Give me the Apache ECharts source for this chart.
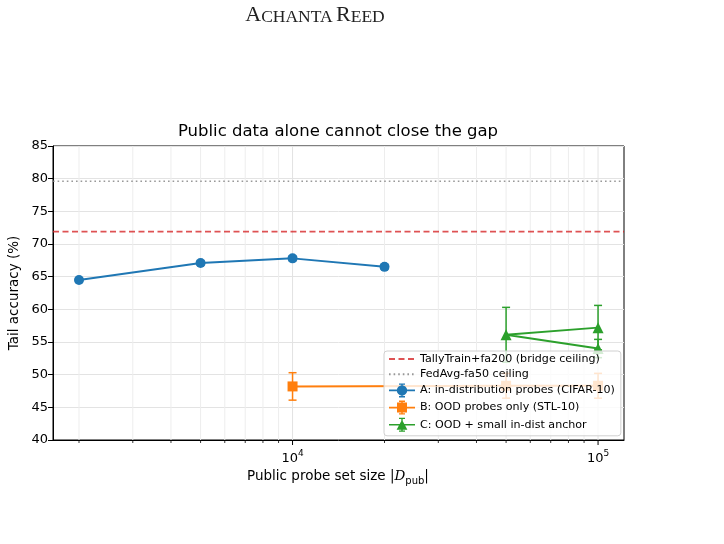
<!DOCTYPE html>
<html><head><meta charset="utf-8">
<script src="https://cdn.jsdelivr.net/npm/echarts@6/dist/echarts.min.js"></script>
<style>html,body{margin:0;padding:0;background:#fff}#c{width:724px;height:544px}</style>
</head><body><div id="c"></div>
<script>
// ---- data ----
const xA = [2000, 5000, 10000, 20000];
const yA = [64.5, 67.1, 67.8, 66.5];
const eA = [0.3, 0.3, 0.35, 0.35];
const xB = [10000, 50000, 100000];
const yB = [48.2, 48.3, 48.3];
const eB = [2.1, 1.9, 1.9];
const xC = [100000, 50000, 100000];
const yC = [57.2, 56.1, 54.0];
const eC = [3.4, 4.2, 1.4];
const bridgeCeiling = 71.9;
const fedavgCeiling = 79.6;
const xMajorTicks = [10000, 100000];
const xMinorTicks = [2000,3000,4000,5000,6000,7000,8000,9000,20000,30000,40000,50000,60000,70000,80000,90000];
const xMin = 1644, xMax = 121600;
const yMin = 40, yMax = 85, yStep = 5;
const names = ['TallyTrain+fa200 (bridge ceiling)','FedAvg-fa50 ceiling','A: in-distribution probes (CIFAR-10)','B: OOD probes only (STL-10)','C: OOD + small in-dist anchor'];
const cBlue='#1f77b4', cOrange='#ff7f0e', cGreen='#2ca02c';

const FONT = 'DejaVu Sans';
const chart = echarts.init(document.getElementById('c'), null, {renderer:'canvas'});

function pairs(xs, ys){ return xs.map((x,i)=>[x, ys[i]]); }
function triples(xs, ys, es){ return xs.map((x,i)=>[x, ys[i], es[i]]); }

function errRender(color){
  return function(params, api){
    const x = api.value(0), y = api.value(1), e = api.value(2);
    const t = api.coord([x, y+e]), b = api.coord([x, y-e]);
    const cw = 4;
    const st = {stroke: color, lineWidth: 1.5};
    return {type:'group', children:[
      {type:'line', shape:{x1:t[0],y1:t[1],x2:b[0],y2:b[1]}, style:st},
      {type:'line', shape:{x1:t[0]-cw,y1:t[1],x2:t[0]+cw,y2:t[1]}, style:st},
      {type:'line', shape:{x1:b[0]-cw,y1:b[1],x2:b[0]+cw,y2:b[1]}, style:st}
    ]};
  };
}
function gridRender(major){
  return function(params, api){
    const x = api.value(0);
    const t = api.coord([x, yMax]), b = api.coord([x, yMin]);
    return {type:'group', children:[
      {type:'line', shape:{x1:t[0],y1:t[1],x2:b[0],y2:b[1]}, style:{stroke: major?'#e3e3e3':'#ededed', lineWidth:1}},
      {type:'line', shape:{x1:b[0],y1:b[1],x2:b[0],y2:b[1]+(major?5:3)}, style:{stroke:'#000', lineWidth: major?1:0.8}}
    ]};
  };
}
// legend icons: line + error bar + marker (26x14 box)
const iconBase = 'M0 6.2 h26 v1.6 h-26 Z M12.3 0 h1.4 v14 h-1.4 Z M10 0 h6 v1.3 h-6 Z M10 12.7 h6 v1.3 h-6 Z ';
const iconA = 'path://' + iconBase + 'M7.8 7 A5.2 5.2 0 1 1 18.2 7 A5.2 5.2 0 1 1 7.8 7 Z';
const iconB = 'path://' + iconBase + 'M8 2 h10 v10 h-10 Z';
const iconC = 'path://' + iconBase + 'M7.6 12 L13 2 L18.4 12 Z';
const noSym = {color:'rgba(0,0,0,0)', borderColor:'rgba(0,0,0,0)', borderWidth:0};

const option = {
  animation:false,
  textStyle:{fontFamily:FONT},
  grid:{left:53, right:100, top:146, bottom:104, show:true, borderColor:'#000', borderWidth:1, backgroundColor:'transparent'},
  xAxis:{type:'log', min:xMin, max:xMax, logBase:10,
    axisLine:{lineStyle:{color:'#000'}},
    axisTick:{show:false}, splitLine:{show:false}, minorTick:{show:false},
    axisLabel:{color:'#000', fontFamily:FONT, fontSize:13, margin:9,
      formatter:function(v){ const l=Math.log10(v), r=Math.round(l); if(Math.abs(l-r)<1e-6 && xMajorTicks.indexOf(Math.pow(10,r))>=0) return '{b|10}{s|'+r+'}'; return ''; },
      rich:{b:{fontSize:13, fontFamily:FONT, color:'#000', verticalAlign:'bottom'}, s:{fontSize:9, fontFamily:FONT, color:'#000', verticalAlign:'bottom', padding:[0,0,7,0]}}
    }
  },
  yAxis:{type:'value', min:yMin, max:yMax, interval:yStep,
    axisLine:{show:true, lineStyle:{color:'#000'}},
    axisTick:{show:true, length:5, lineStyle:{color:'#000'}},
    splitLine:{show:true, lineStyle:{color:'#e3e3e3', width:1}},
    axisLabel:{color:'#000', fontFamily:FONT, fontSize:13, margin:5}
  },
  legend:{
    data:[
      {name:names[0], itemStyle:noSym},
      {name:names[1], itemStyle:noSym},
      {name:names[2], icon:iconA},
      {name:names[3], icon:iconB},
      {name:names[4], icon:iconC}
    ],
    orient:'vertical', left:384, top:351, z:10,
    backgroundColor:'rgba(255,255,255,0.8)', borderColor:'#d0d0d0', borderWidth:1, borderRadius:3,
    padding:[2,6,4,4], itemWidth:26, itemHeight:14, itemGap:3.2,
    textStyle:{fontFamily:FONT, fontSize:11.1, color:'#000', lineHeight:12},
    selectedMode:false
  },
  graphic:[
    {type:'text', x:315, y:15, style:{text:'{a|A}{b|CHANTA} {a|R}{b|EED}', align:'center', verticalAlign:'middle',
      rich:{a:{fontFamily:'Liberation Serif', fontSize:22, fill:'#222', verticalAlign:'bottom'}, b:{fontFamily:'Liberation Serif', fontSize:17.5, fill:'#222', verticalAlign:'bottom'}}}},
    {type:'text', x:338, y:132, style:{text:'Public data alone cannot close the gap', font:'16.5px "DejaVu Sans"', fill:'#000', align:'center', verticalAlign:'middle'}},
    {type:'text', x:14, y:293, rotation:Math.PI/2, style:{text:'Tail accuracy (%)', font:'13.5px "DejaVu Sans"', fill:'#000', align:'center', verticalAlign:'middle'}},
    {type:'text', x:338, y:476, style:{text:'{n|Public probe set size |}{d|D}{p|pub}{n||}', align:'center', verticalAlign:'middle',
      rich:{n:{fontFamily:FONT, fontSize:13.5, fill:'#000', verticalAlign:'bottom'}, d:{fontFamily:'DejaVu Serif', fontStyle:'italic', fontSize:13.5, fill:'#000', verticalAlign:'bottom'}, p:{fontFamily:FONT, fontSize:10, fill:'#000', verticalAlign:'bottom', padding:[0,0,-3,0]}}}}
  ],
  series:[
    {type:'custom', name:'gridMinor', data:xMinorTicks.map(x=>[x]), renderItem:gridRender(false), clip:false, silent:true, z:1, encode:{x:0}},
    {type:'custom', name:'gridMajor', data:xMajorTicks.map(x=>[x]), renderItem:gridRender(true), clip:false, silent:true, z:1, encode:{x:0}},
    {type:'line', name:names[0], data:[[xMin,bridgeCeiling],[xMax,bridgeCeiling]], symbol:'none', z:2,
      lineStyle:{color:'#d62728', opacity:0.8, width:1.6, type:[6,3.5]}, itemStyle:{color:'#d62728', opacity:0.8}},
    {type:'line', name:names[1], data:[[xMin,fedavgCeiling],[xMax,fedavgCeiling]], symbol:'none', z:2,
      lineStyle:{color:'#808080', opacity:0.8, width:1.6, type:[1.6,3]}, itemStyle:{color:'#808080', opacity:0.8}},
    {type:'custom', name:'errA', data:triples(xA,yA,eA), renderItem:errRender(cBlue), z:2, encode:{x:0,y:1}},
    {type:'custom', name:'errB', data:triples(xB,yB,eB), renderItem:errRender(cOrange), z:2, encode:{x:0,y:1}},
    {type:'custom', name:'errC', data:triples(xC,yC,eC), renderItem:errRender(cGreen), z:2, encode:{x:0,y:1}},
    {type:'line', name:names[2], data:pairs(xA,yA), symbol:'circle', symbolSize:10, z:3,
      lineStyle:{color:cBlue, width:2}, itemStyle:{color:cBlue}},
    {type:'line', name:names[3], data:pairs(xB,yB), symbol:'rect', symbolSize:10, z:3,
      lineStyle:{color:cOrange, width:2}, itemStyle:{color:cOrange}},
    {type:'line', name:names[4], data:pairs(xC,yC), symbol:'triangle', symbolSize:11, z:3,
      lineStyle:{color:cGreen, width:2}, itemStyle:{color:cGreen}}
  ]
};
chart.setOption(option);
</script>
</body></html>
